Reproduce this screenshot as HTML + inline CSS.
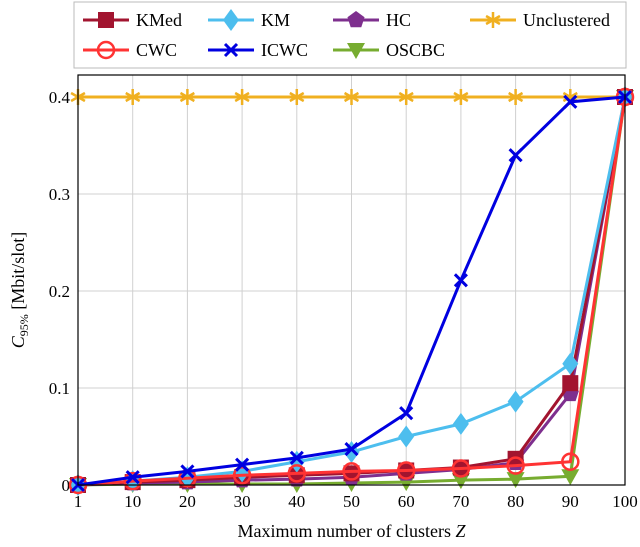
<!DOCTYPE html>
<html><head><meta charset="utf-8"><style>
body{margin:0;background:#fff;}
svg text{font-family:"Liberation Serif",serif;}
</style></head><body>
<svg id="chart" width="640" height="542" xmlns="http://www.w3.org/2000/svg"></svg>
<script>
const categories=["1","10","20","30","40","50","60","70","80","90","100"];
const yTicks=[0,0.1,0.2,0.3,0.4];
const yTickLabels=["0","0.1","0.2","0.3","0.4"];
const kmed=[0,0.003,0.005,0.008,0.01,0.012,0.015,0.018,0.027,0.105,0.4];
const km=[0,0.004,0.008,0.014,0.024,0.034,0.05,0.063,0.086,0.125,0.4];
const hc=[0,0.002,0.003,0.005,0.006,0.008,0.012,0.016,0.023,0.094,0.4];
const cwc=[0,0.004,0.007,0.01,0.012,0.014,0.015,0.017,0.02,0.024,0.4];
const icwc=[0,0.008,0.014,0.021,0.028,0.037,0.074,0.211,0.34,0.395,0.4];
const oscbc=[0,0.001,0.001,0.001,0.001,0.002,0.003,0.005,0.006,0.009,0.4];
const unclustered=[0.4,0.4,0.4,0.4,0.4,0.4,0.4,0.4,0.4,0.4,0.4];

const svg=document.getElementById('chart');
const NS='http://www.w3.org/2000/svg';
const L=78,R=625,T=75,B=485,Y0=485,Y04=97;
const xs=i=>L+(R-L)*i/(categories.length-1);
const ys=v=>Y0+(Y04-Y0)*v/0.4;
function mk(tag,attrs,parent){const e=document.createElementNS(NS,tag);for(const k in attrs)e.setAttribute(k,attrs[k]);(parent||svg).appendChild(e);return e;}

const grid=mk('g',{});


categories.forEach((c,i)=>{mk('line',{x1:xs(i),x2:xs(i),y1:T,y2:B,stroke:'#d0d0d0','stroke-width':1},grid);});
yTicks.forEach(v=>{mk('line',{x1:L,x2:R,y1:ys(v),y2:ys(v),stroke:'#d0d0d0','stroke-width':1},grid);});

const xt=mk('g',{'font-size':17,'text-anchor':'middle'});


categories.forEach((c,i)=>{const t=mk('text',{x:xs(i),y:B+22},xt);t.textContent=c;});
const yt=mk('g',{'font-size':17,'text-anchor':'end'});


yTicks.forEach((v,i)=>{const t=mk('text',{x:L-8,y:ys(v)+6},yt);t.textContent=yTickLabels[i];});

const xl=mk('text',{x:(L+R)/2,y:537,'font-size':18,'text-anchor':'middle'});


xl.innerHTML='Maximum number of clusters <tspan font-style="italic">Z</tspan>';
const yl=mk('text',{x:0,y:0,'font-size':18,'text-anchor':'middle',transform:'translate(24,290) rotate(-90)'});


yl.innerHTML='<tspan font-style="italic">C</tspan><tspan font-size="12" dy="4">95%</tspan><tspan dy="-4"> [Mbit/slot]</tspan>';

function marker(kind,x,y,color,g){
  if(kind==='square')mk('rect',{x:x-8,y:y-8,width:16,height:16,fill:color},g);
  else if(kind==='diamond')mk('polygon',{points:`${x},${y-11} ${x+8},${y} ${x},${y+11} ${x-8},${y}`,fill:color},g);
  else if(kind==='pentagon'){let p=[];for(let k=0;k<5;k++){const a=-Math.PI/2+k*2*Math.PI/5;p.push((x+9*Math.cos(a))+','+(y+9*Math.sin(a)));}mk('polygon',{points:p.join(' '),fill:color},g);}
  else if(kind==='circle')mk('circle',{cx:x,cy:y,r:8,fill:'none',stroke:color,'stroke-width':2.5},g);
  else if(kind==='x'){mk('path',{d:`M${x-6},${y-6}L${x+6},${y+6}M${x-6},${y+6}L${x+6},${y-6}`,stroke:color,'stroke-width':3},g);}
  else if(kind==='tri')mk('polygon',{points:`${x-9},${y-7} ${x+9},${y-7} ${x},${y+9}`,fill:color},g);
  else if(kind==='star'){let d='';for(let k=0;k<3;k++){const a=Math.PI/2+k*Math.PI/3;d+=`M${x-8*Math.cos(a)},${y-8*Math.sin(a)}L${x+8*Math.cos(a)},${y+8*Math.sin(a)}`;}mk('path',{d:d,stroke:color,'stroke-width':2.5},g);}
}
const series=[
 {name:'unclustered',data:unclustered,color:'#f0b020',m:'star'},
 {name:'oscbc',data:oscbc,color:'#77ac30',m:'tri'},
 {name:'hc',data:hc,color:'#7e2f8e',m:'pentagon'},
 {name:'kmed',data:kmed,color:'#a2142f',m:'square'},
 {name:'km',data:km,color:'#4dbeee',m:'diamond'},
 {name:'cwc',data:cwc,color:'#ff3333',m:'circle'},
 {name:'icwc',data:icwc,color:'#0000e0',m:'x'}
];
series.forEach(s=>{
  const g=mk('g',{});
  
  
  mk('polyline',{points:s.data.map((v,i)=>xs(i)+','+ys(v)).join(' '),fill:'none',stroke:s.color,'stroke-width':3},g);
  s.data.forEach((v,i)=>marker(s.m,xs(i),ys(v),s.color,g));
});
mk('rect',{x:L,y:T,width:R-L,height:B-T,fill:'none',stroke:'#000','stroke-width':1.2});

const lg=mk('g',{});


mk('rect',{x:74,y:2,width:552,height:66,fill:'#fff',stroke:'#bbb'},lg);
const items=[
 ['KMed','#a2142f','square',83,20],['KM','#4dbeee','diamond',208,20],['HC','#7e2f8e','pentagon',333,20],['Unclustered','#f0b020','star',470,20],
 ['CWC','#ff3333','circle',83,50],['ICWC','#0000e0','x',208,50],['OSCBC','#77ac30','tri',333,50]];
items.forEach(it=>{
  const g=mk('g',{},lg);
  
  
  mk('line',{x1:it[3],x2:it[3]+46,y1:it[4],y2:it[4],stroke:it[1],'stroke-width':3},g);
  marker(it[2],it[3]+23,it[4],it[1],g);
  const t=mk('text',{x:it[3]+53,y:it[4]+6,'font-size':18},g);t.textContent=it[0];
});
</script>
</body></html>
